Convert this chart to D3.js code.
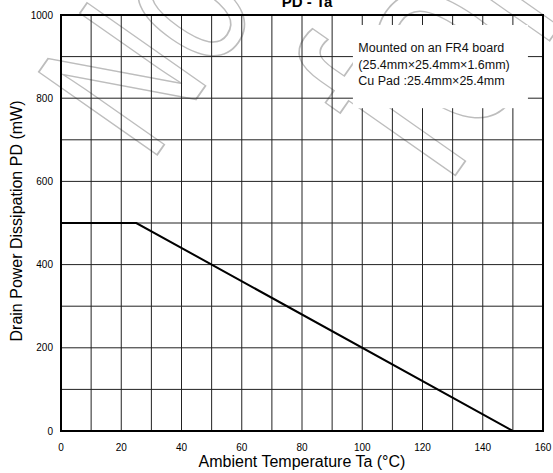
<!DOCTYPE html>
<html>
<head>
<meta charset="utf-8">
<script src="https://cdn.jsdelivr.net/npm/d3@7"></script>
<style>
  body { margin: 0; background: #fff; }
  svg { display: block; font-family: "Liberation Sans", Arial, sans-serif; }
</style>
</head>
<body>
<svg id="chart" width="553" height="473"></svg>
<script>
let temps = [0, 25, 150];
let power = [500, 500, 0];
let xTicks = [0, 20, 40, 60, 80, 100, 120, 140, 160];
let yTicks = [0, 200, 400, 600, 800, 1000];
let noteLines = ["Mounted on an FR4 board", "(25.4mm\u00d725.4mm\u00d71.6mm)", "Cu Pad :25.4mm\u00d725.4mm"];
let stampWords = ["Not", "for"];

let width = 553;
let height = 473;
let margins = {top: 15, right: 10, bottom: 42, left: 61};

let svg = d3.select("#chart");

var x = d3.scaleLinear()
  .domain([0, 160])
  .range([margins.left, width - margins.right]);

var y = d3.scaleLinear()
  .domain([0, 1000])
  .range([height - margins.bottom, margins.top]);

// watermark (outlined grey letters)
let stampPos = [[150, 165, 210], [445, 190, 280]];
svg.append("g")
  .selectAll("text")
  .data(stampWords)
  .enter().append("text")
    .attr("transform", (d, i) => "translate(" + stampPos[i][0] + "," + stampPos[i][1] + ")rotate(-55)scale(0.72,1)")
    .attr("font-size", (d, i) => stampPos[i][2])
    .attr("fill", "none")
    .attr("stroke", "#bdbdbd")
    .attr("stroke-width", 1.8)
    .text(d => d);

// grid
let g = svg.append("g");
g.selectAll("line.vgrid")
  .data(d3.range(10, 160, 10))
  .enter().append("line")
    .attr("class", "vgrid")
    .attr("x1", d => x(d)).attr("x2", d => x(d))
    .attr("y1", y(0)).attr("y2", y(1000))
    .attr("stroke", "#222")
    .attr("stroke-width", 1);

g.selectAll("line.hgrid")
  .data(d3.range(100, 1000, 100))
  .enter().append("line")
    .attr("class", "hgrid")
    .attr("x1", x(0)).attr("x2", x(160))
    .attr("y1", d => y(d)).attr("y2", d => y(d))
    .attr("stroke", "#222")
    .attr("stroke-width", 1);

// note box covers the grid
svg.append("rect")
  .attr("x", x(96.9))
  .attr("y", y(976))
  .attr("width", x(155) - x(96.9))
  .attr("height", y(776) - y(976))
  .attr("fill", "#fff");

svg.append("g")
  .selectAll("text")
  .data(noteLines)
  .enter().append("text")
    .attr("x", x(98.7))
    .attr("y", (d, i) => 52 + i * 16.5)
    .attr("font-size", 12.5)
    .attr("fill", "#111")
    .text(d => d);

// frame
svg.append("rect")
  .attr("x", x(0)).attr("y", y(1000))
  .attr("width", x(160) - x(0))
  .attr("height", y(0) - y(1000))
  .attr("fill", "none")
  .attr("stroke", "#000")
  .attr("stroke-width", 2);

// tick labels
svg.append("g")
  .selectAll("text")
  .data(xTicks)
  .enter().append("text")
    .attr("x", d => x(d))
    .attr("y", y(0) + 20)
    .attr("text-anchor", "middle")
    .attr("font-size", 10)
    .text(d => d);

svg.append("g")
  .selectAll("text")
  .data(yTicks)
  .enter().append("text")
    .attr("x", x(0) - 8)
    .attr("y", d => y(d) + 3.5)
    .attr("text-anchor", "end")
    .attr("font-size", 10)
    .text(d => d);

// curve
let line = d3.line()
  .x((d, i) => x(temps[i]))
  .y(d => y(d));

svg.append("path")
  .datum(power)
  .attr("d", line)
  .attr("fill", "none")
  .attr("stroke", "#000")
  .attr("stroke-width", 2);

// titles
svg.append("text")
  .attr("x", 307).attr("y", 7)
  .attr("text-anchor", "middle")
  .attr("font-size", 15)
  .attr("font-weight", "bold")
  .text("PD - Ta");

svg.append("text")
  .attr("x", 302)
  .attr("y", 467)
  .attr("text-anchor", "middle")
  .attr("font-size", 16)
  .text("Ambient Temperature Ta (\u00b0C)");

svg.append("text")
  .attr("transform", "translate(22,221)rotate(-90)")
  .attr("text-anchor", "middle")
  .attr("font-size", 16)
  .text("Drain Power Dissipation PD (mW)");
</script>
</body>
</html>
